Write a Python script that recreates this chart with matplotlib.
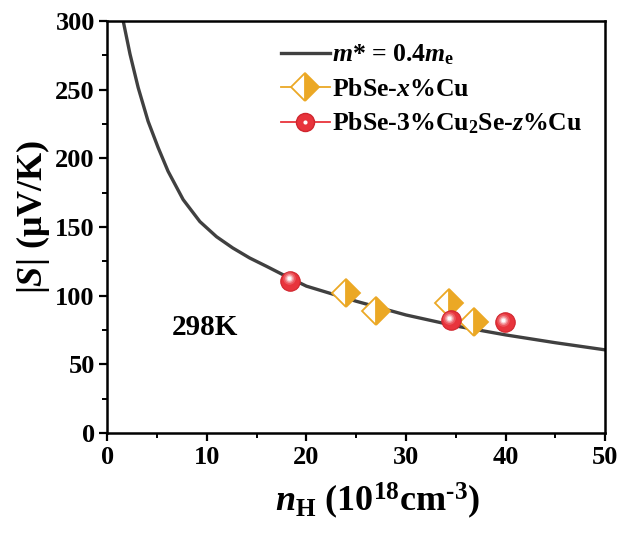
import matplotlib
matplotlib.use('Agg')
import matplotlib.pyplot as plt
import matplotlib.transforms as mtransforms
from matplotlib.lines import Line2D
from matplotlib.legend_handler import HandlerTuple


# model curve m* = 0.4 me
curve_n = [1.6, 2.28, 3.1, 4.1, 5.1, 6.1, 7.62, 9.3, 10.97, 12.6, 14.3, 16.0, 17.65,
           20.0, 25.0, 30.0, 35.0, 40.0, 45.0, 50.0]
curve_S = [300, 276, 251.6, 227, 208, 190.7, 170, 154, 143, 134.8, 127.5, 121.4, 115.3,
           107, 96, 86, 78, 71.5, 65.8, 60.6]

# PbSe-x%Cu
cu_n = [23.95, 27.0, 34.3, 36.8]
cu_S = [102, 89, 95, 81]

# PbSe-3%Cu2Se-z%Cu
cu2se_n = [18.4, 34.5, 39.9]
cu2se_S = [111, 82.5, 81]

plt.rcParams['font.family'] = ['Liberation Serif', 'DejaVu Serif']
plt.rcParams['font.weight'] = 'bold'
plt.rcParams['axes.labelweight'] = 'bold'
plt.rcParams['mathtext.fontset'] = 'custom'
plt.rcParams['mathtext.rm'] = 'Liberation Serif:bold'
plt.rcParams['mathtext.bf'] = 'Liberation Serif:bold'
plt.rcParams['mathtext.it'] = 'Liberation Serif:italic:bold'

ORANGE = '#EBA825'
RED = '#E8343C'
GREY = '#404040'


def main():
    fig = plt.figure(figsize=(6.22, 5.34), dpi=100)
    ax = fig.add_axes([0.1725, 0.189, 0.8003, 0.7715])

    ax.plot(curve_n, curve_S, color=GREY, lw=2.4, zorder=2)

    ax.plot(cu_n, cu_S, ls='none', marker='D', ms=14.5, mfc=ORANGE, mfcalt='white',
            fillstyle='right', mec=ORANGE, mew=1.3, zorder=3)

    # shaded balls
    ax.plot(cu2se_n, cu2se_S, ls='none', marker='o', ms=14, mfc=RED, mec='#D0262E',
            mew=0.8, zorder=4)
    hl = mtransforms.offset_copy(ax.transData, fig=fig, x=-1.2, y=1.6, units='points')
    for size, alpha in [(9, 0.18), (6.5, 0.3), (4.5, 0.55), (2.8, 0.95)]:
        ax.plot(cu2se_n, cu2se_S, ls='none', marker='o', ms=size, mfc='white', mec='none',
                alpha=alpha, transform=hl, zorder=5)

    ax.set_xlim(0, 50)
    ax.set_ylim(0, 300)
    ax.set_xticks(range(0, 51, 10))
    ax.set_xticks(range(5, 50, 10), minor=True)
    ax.set_yticks(range(0, 301, 50))
    ax.set_yticks(range(25, 300, 50), minor=True)
    ax.tick_params(which='major', direction='out', length=6, width=1.6, labelsize=19, pad=3)
    ax.tick_params(which='minor', direction='out', length=3.5, width=1.4)
    for sp in ax.spines.values():
        sp.set_linewidth(1.8)

    ax.set_xlabel('$n_{\\rm H}$ (10$^{\\rm 18}$cm$^{\\rm \u2010 3}$)', fontsize=26,
                  fontweight='bold', va='top')
    ax.xaxis.set_label_coords(0.542, -0.115)
    ax.set_ylabel('|$S$| (\u03bcV/K)', fontsize=26, fontweight='bold')
    ax.yaxis.set_label_coords(-0.112, 0.525)

    ax.text(9.8, 77, '298K', fontsize=21, ha='center', va='center')

    h_line = Line2D([], [], color=GREY, lw=2.4)
    h_cu = Line2D([], [], color=ORANGE, lw=1.3, marker='D', ms=14.5, mfc=ORANGE,
                  mfcalt='white', fillstyle='right', mec=ORANGE, mew=1.3)
    h_ball = Line2D([], [], color=RED, lw=1.3, marker='o', ms=13, mfc=RED, mec='#D0262E')
    h_hl = Line2D([], [], ls='none', marker='o', ms=3, mfc='white', mec='none')
    ax.legend([h_line, h_cu, (h_ball, h_hl)],
              ['$m$* = 0.4$m_{\\rm e}$', 'PbSe-$x$%Cu', 'PbSe-3%Cu$_{\\rm 2}$Se-$z$%Cu'],
              handler_map={tuple: HandlerTuple(ndivide=1)},
              loc='upper left', bbox_to_anchor=(0.318, 0.985), frameon=False,
              fontsize=18.5, handlelength=1.9, handletextpad=0.1, labelspacing=0.4,
              borderaxespad=0.2)

    fig.savefig('out.png', dpi=100)


if __name__ == '__main__':
    main()
